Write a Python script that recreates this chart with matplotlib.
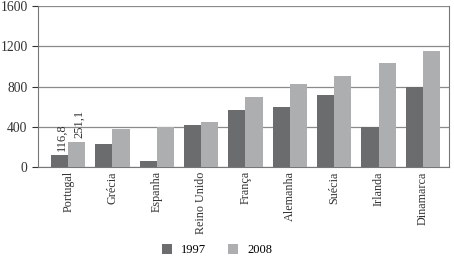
import matplotlib.pyplot as plt
import numpy as np

plt.rcParams['font.family'] = ['Liberation Serif', 'DejaVu Serif']

# data
paises = ['Portugal', 'Grécia', 'Espanha', 'Reino Unido', 'França',
          'Alemanha', 'Suécia', 'Irlanda', 'Dinamarca']
v1997 = [116.8, 225, 55, 415, 570, 600, 720, 400, 800]
v2008 = [251.1, 375, 400, 450, 700, 820, 900, 1030, 1150]

cor1 = '#6b6c6e'
cor2 = '#adaeb0'

fig = plt.figure(figsize=(4.54, 2.63), dpi=100)
ax = fig.add_axes([38 / 454, 1 - 167 / 263, 411 / 454, 161 / 263])

x = np.arange(len(paises))
w = 0.385
ax.bar(x - w / 2, v1997, w, color=cor1, label='1997', zorder=3)
ax.bar(x + w / 2, v2008, w, color=cor2, label='2008', zorder=3)

# rotulos de Portugal
ax.text(x[0] - w / 2 + 0.04, v1997[0] + 40, '116,8', rotation=90,
        ha='center', va='bottom', fontsize=9, color='#333333')
ax.text(x[0] + w / 2 + 0.06, v2008[0] + 40, '251,1', rotation=90,
        ha='center', va='bottom', fontsize=9, color='#333333')

ax.set_ylim(0, 1600)
ax.set_yticks([0, 400, 800, 1200, 1600])
ax.set_xlim(-0.68, 8.59)
ax.set_xticks(x)
ax.set_xticklabels(paises, rotation=90, fontsize=8.7, color='#333333')
ax.tick_params(axis='x', length=0, pad=3)
ax.tick_params(axis='y', labelsize=9.8, colors='#333333', length=4, direction='out')
ax.yaxis.grid(True, color='#8a8a8a', linewidth=0.9, zorder=0)
for s in ['left', 'right', 'bottom']:
    ax.spines[s].set_color('#777777')
ax.spines['top'].set_visible(False)

fig.legend(loc='center', bbox_to_anchor=(217 / 454, 1 - 250 / 263), ncol=2,
           frameon=False, fontsize=9, handlelength=0.8, handleheight=0.8,
           columnspacing=1.8, handletextpad=0.7)

fig.savefig('out.png', dpi=100)
